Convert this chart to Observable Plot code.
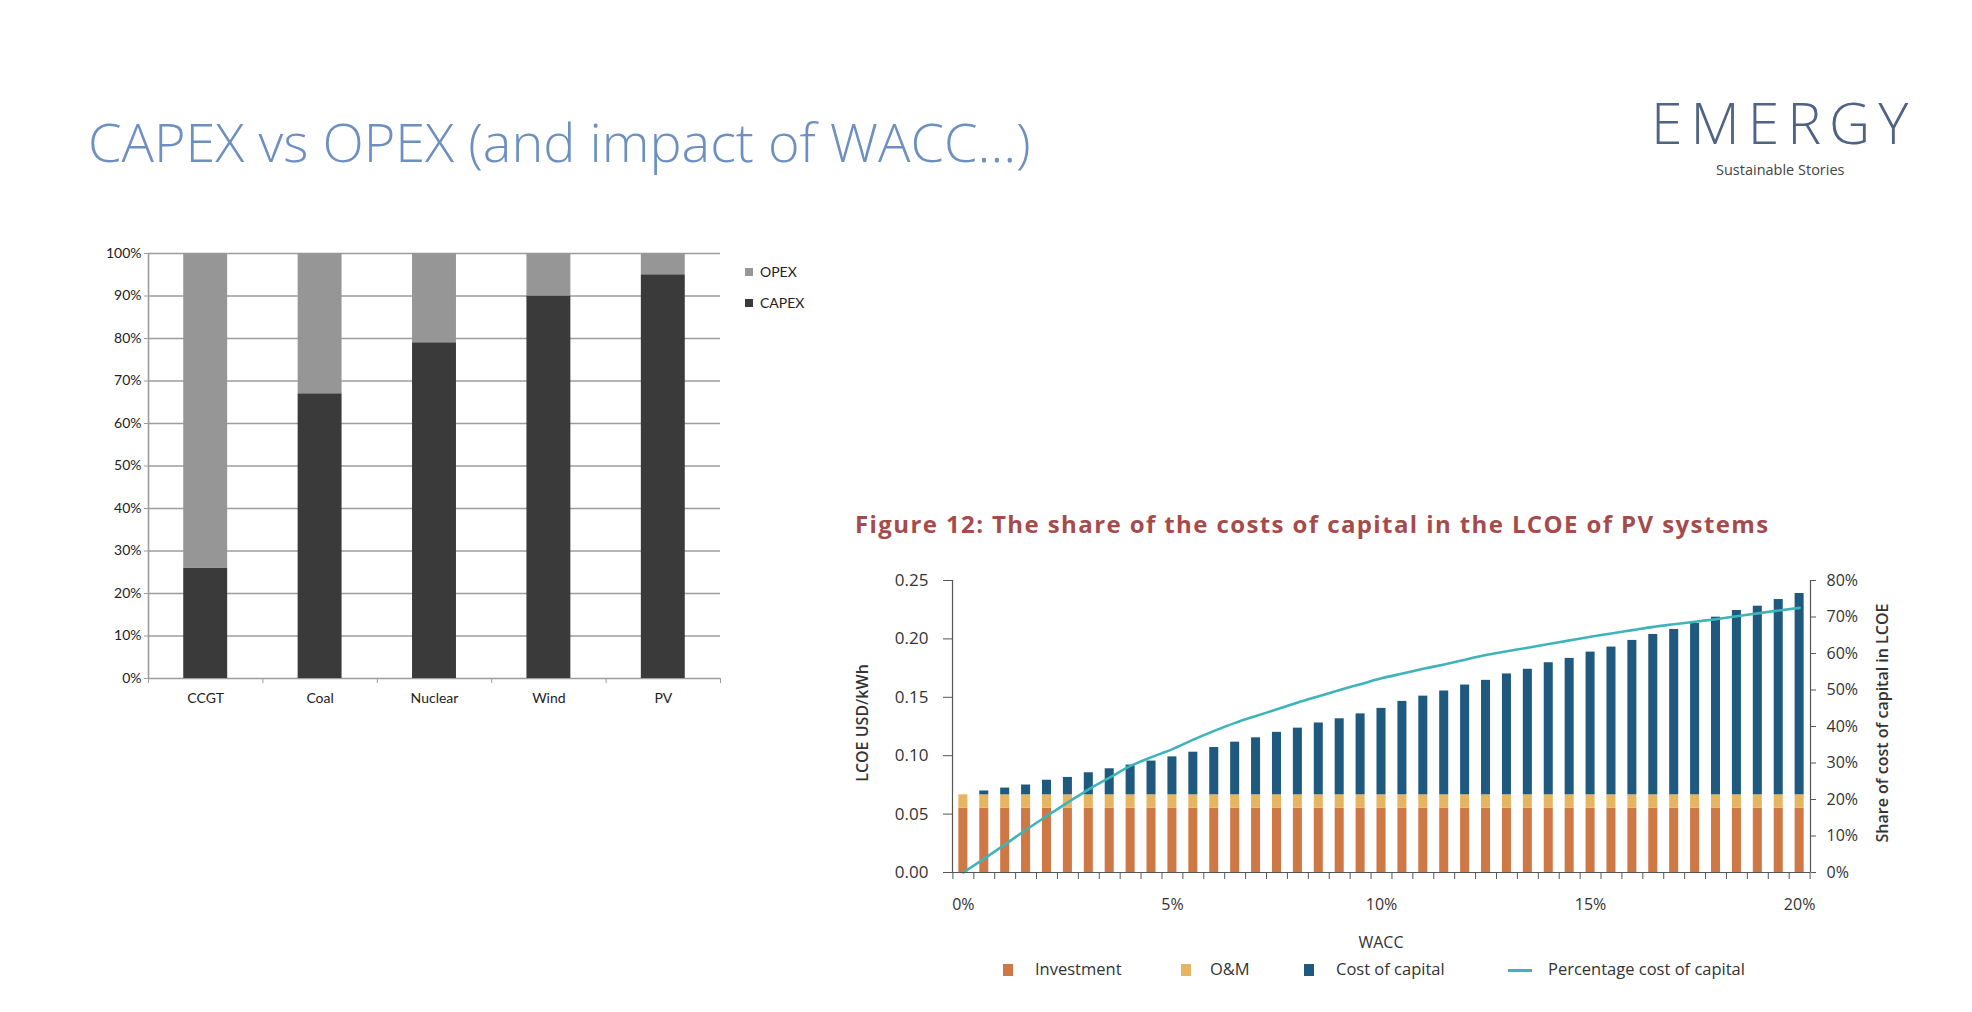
<!DOCTYPE html>
<html>
<head>
<meta charset="utf-8">
<script src="https://cdn.jsdelivr.net/npm/d3@7"></script>
<script src="https://cdn.jsdelivr.net/npm/@observablehq/plot@0.6"></script>
<style>
  html, body { margin: 0; padding: 0; background: #fff; }
  #page { position: relative; width: 1972px; height: 1012px; overflow: hidden; background: #fff; }
  .abs { position: absolute; white-space: nowrap; line-height: 1; }
  .sq { position: absolute; }
</style>
</head>
<body>
<div id="page">
  <div class="abs" style="left:88px; top:114px; font-family:'Open Sans'; font-weight:300; font-size:54px; color:#6d90c0;">CAPEX vs OPEX (and impact of WACC…)</div>
  <div class="abs" style="left:1651px; top:94px; font-family:'Open Sans'; font-weight:300; font-size:57px; letter-spacing:8px; color:#4f6384;">EMERGY</div>
  <div class="abs" style="left:1716px; top:163px; font-family:'Open Sans'; font-size:14.5px; color:#444;">Sustainable Stories</div>

  <div id="left" style="position:absolute; left:0px; top:230px;"></div>
  <div class="sq" style="left:745px; top:268px; width:8px; height:8px; background:#969696;"></div>
  <div class="abs" style="left:760px; top:265px; font-family:Lato; font-size:14px; color:#222;">OPEX</div>
  <div class="sq" style="left:745px; top:299px; width:8px; height:8px; background:#3a3a3a;"></div>
  <div class="abs" style="left:760px; top:296px; font-family:Lato; font-size:14px; color:#222;">CAPEX</div>

  <div class="abs" style="left:855px; top:512px; font-family:'Open Sans'; font-weight:700; font-size:24px; letter-spacing:1.4px; color:#a54b4b;">Figure 12: The share of the costs of capital in the LCOE of PV systems</div>
  <div id="right" style="position:absolute; left:840px; top:560px;"></div>
  <div class="abs" style="left:862px; top:723px; transform:translate(-50%,-50%) rotate(-90deg); font-family:'Open Sans'; font-weight:600; font-size:16px; color:#333;">LCOE USD/kWh</div>
  <div class="abs" style="left:1882px; top:723px; transform:translate(-50%,-50%) rotate(-90deg); font-family:'Open Sans'; font-weight:600; font-size:16px; color:#333;">Share of cost of capital in LCOE</div>
  <div class="abs" style="left:1381px; top:942px; transform:translate(-50%,-50%); font-family:'Open Sans'; font-size:16px; color:#333;">WACC</div>

  <div class="sq" style="left:1003px; top:964px; width:10px; height:12px; background:#cd7845;"></div>
  <div class="abs" style="left:1035px; top:961px; font-family:'Open Sans'; font-size:16.5px; color:#333;">Investment</div>
  <div class="sq" style="left:1181px; top:964px; width:10px; height:12px; background:#e6b562;"></div>
  <div class="abs" style="left:1210px; top:961px; font-family:'Open Sans'; font-size:16.5px; color:#333;">O&amp;M</div>
  <div class="sq" style="left:1304px; top:964px; width:10px; height:12px; background:#1f5a7e;"></div>
  <div class="abs" style="left:1336px; top:961px; font-family:'Open Sans'; font-size:16.5px; color:#333;">Cost of capital</div>
  <div class="sq" style="left:1508px; top:969px; width:24px; height:3px; background:#3fb4b8;"></div>
  <div class="abs" style="left:1548px; top:961px; font-family:'Open Sans'; font-size:16.5px; color:#333;">Percentage cost of capital</div>
</div>
<script>
// ---------- Left chart data ----------
const techs = ["CCGT", "Coal", "Nuclear", "Wind", "PV"];
const capexShare = [26, 67, 79, 90, 95];
const opexShare = [74, 33, 21, 10, 5];
const pctTicks = [0, 10, 20, 30, 40, 50, 60, 70, 80, 90, 100];

// ---------- Right chart data ----------
const wacc = [0, 0.5, 1, 1.5, 2, 2.5, 3, 3.5, 4, 4.5, 5, 5.5, 6, 6.5, 7, 7.5, 8, 8.5, 9, 9.5, 10,
  10.5, 11, 11.5, 12, 12.5, 13, 13.5, 14, 14.5, 15, 15.5, 16, 16.5, 17, 17.5, 18, 18.5, 19, 19.5, 20];
const investment = [0.055, 0.055, 0.055, 0.055, 0.055, 0.055, 0.055, 0.055, 0.055, 0.055, 0.055,
  0.055, 0.055, 0.055, 0.055, 0.055, 0.055, 0.055, 0.055, 0.055, 0.055, 0.055, 0.055, 0.055, 0.055,
  0.055, 0.055, 0.055, 0.055, 0.055, 0.055, 0.055, 0.055, 0.055, 0.055, 0.055, 0.055, 0.055, 0.055,
  0.055, 0.055];
const om = [0.0115, 0.0115, 0.0115, 0.0115, 0.0115, 0.0115, 0.0115, 0.0115, 0.0115, 0.0115, 0.0115,
  0.0115, 0.0115, 0.0115, 0.0115, 0.0115, 0.0115, 0.0115, 0.0115, 0.0115, 0.0115, 0.0115, 0.0115,
  0.0115, 0.0115, 0.0115, 0.0115, 0.0115, 0.0115, 0.0115, 0.0115, 0.0115, 0.0115, 0.0115, 0.0115,
  0.0115, 0.0115, 0.0115, 0.0115, 0.0115, 0.0115];
const costOfCapital = [0, 0.0033, 0.0058, 0.0084, 0.0125, 0.0149, 0.0189, 0.0223, 0.0255, 0.0289,
  0.0325, 0.0365, 0.0405, 0.0451, 0.0488, 0.0535, 0.0571, 0.0615, 0.0651, 0.0693, 0.074, 0.08,
  0.0845, 0.0889, 0.094, 0.098, 0.1035, 0.1075, 0.1131, 0.1168, 0.1222, 0.1265, 0.1322, 0.1373,
  0.1416, 0.1467, 0.1521, 0.1578, 0.1615, 0.1672, 0.1724];
const shareCapital = [0, 3.8, 7.7, 11.7, 15.5, 19.2, 22.8, 26, 29.2, 31.6, 33.8, 36.4, 38.8, 41,
  42.9, 44.7, 46.6, 48.3, 50, 51.6, 53.2, 54.5, 55.8, 57, 58.3, 59.6, 60.6, 61.6, 62.6, 63.6, 64.6,
  65.5, 66.4, 67.3, 68, 68.7, 69.4, 70.2, 71, 71.8, 72.5];
const lcoeTicks = [0, 0.05, 0.10, 0.15, 0.20, 0.25];
const shareTicks = [0, 10, 20, 30, 40, 50, 60, 70, 80];
const waccTicks = [0, 5, 10, 15, 20];
const components = ["Investment", "O&M", "Cost of capital"];
const componentColors = ["#cd7845", "#e6b562", "#1f5a7e"];

// ---------- Left chart ----------
const leftRows = [];
techs.forEach((t, i) => {
  leftRows.push({i, tech: t, part: "CAPEX", value: capexShare[i]});
  leftRows.push({i, tech: t, part: "OPEX", value: opexShare[i]});
});
const bounds5 = [-0.5, 0.5, 1.5, 2.5, 3.5, 4.5];

const left = Plot.plot({
  width: 740, height: 490,
  marginLeft: 148, marginRight: 20, marginTop: 23, marginBottom: 42,
  x: {domain: [-0.5, 4.5]},
  y: {domain: [0, 100]},
  color: {domain: ["CAPEX", "OPEX"], range: ["#3a3a3a", "#969696"]},
  style: {fontFamily: "Lato", fontSize: "14px", color: "#222", background: "transparent", overflow: "visible"},
  marks: [
    Plot.ruleY(pctTicks, {stroke: "#9c9c9c", strokeWidth: 1.6}),
    Plot.rectY(leftRows, {x1: d => d.i - 0.192, x2: d => d.i + 0.192, y: "value", fill: "part"}),
    Plot.ruleX([-0.5], {y1: 0, y2: 100, stroke: "#9c9c9c", strokeWidth: 1.6}),
    Plot.axisY(pctTicks, {label: null, tickFormat: d => d + "%", tickSize: 4, tickPadding: 3, stroke: "#9c9c9c"}),
    Plot.axisX(bounds5, {label: null, tickFormat: () => "", tickSize: 5, stroke: "#9c9c9c"}),
    Plot.axisX([0, 1, 2, 3, 4], {label: null, tickFormat: i => techs[i], tickSize: 0, tickPadding: 15, fontSize: 14})
  ]
});
document.getElementById("left").appendChild(left);

// ---------- Right chart ----------
const rightRows = [];
wacc.forEach((w, i) => {
  rightRows.push({wacc: w, component: "Investment", value: investment[i]});
  rightRows.push({wacc: w, component: "O&M", value: om[i]});
  rightRows.push({wacc: w, component: "Cost of capital", value: costOfCapital[i]});
});
const lineRows = wacc.map((w, i) => ({wacc: w, share: shareCapital[i]}));
const bandBounds = d3.range(-0.25, 20.3, 0.5);
const toLcoe = p => p * 0.25 / 80;

const right = Plot.plot({
  width: 1100, height: 360,
  marginLeft: 112, marginRight: 130, marginTop: 20, marginBottom: 48,
  x: {domain: [-0.26, 20.26]},
  y: {domain: [0, 0.25]},
  color: {domain: components, range: componentColors},
  style: {fontFamily: "'Open Sans'", fontSize: "16px", color: "#333", background: "transparent", overflow: "visible"},
  marks: [
    Plot.rectY(rightRows, {x1: d => d.wacc - 0.108, x2: d => d.wacc + 0.108, y: "value", fill: "component"}),
    Plot.line(lineRows, {x: "wacc", y: d => toLcoe(d.share), stroke: "#3fb4b8", strokeWidth: 2.6, curve: "monotone-x"}),
    Plot.ruleY([0], {stroke: "#555", strokeWidth: 1.2}),
    Plot.ruleX([-0.26, 20.26], {y1: 0, y2: 0.25, stroke: "#555", strokeWidth: 1.2}),
    Plot.axisY(lcoeTicks, {anchor: "left", label: null, tickFormat: d3.format(".2f"), tickSize: 9, tickPadding: 15, fontSize: 17, stroke: "#555"}),
    Plot.axisY(shareTicks.map(toLcoe), {anchor: "right", label: null, tickFormat: d => Math.round(d / 0.25 * 80) + "%", tickSize: 5, tickPadding: 11, stroke: "#555"}),
    Plot.axisX(bandBounds, {label: null, tickFormat: () => "", tickSize: 7, stroke: "#555"}),
    Plot.axisX(waccTicks, {label: null, tickFormat: d => d + "%", tickSize: 0, tickPadding: 26})
  ]
});
document.getElementById("right").appendChild(right);
</script>
</body>
</html>
